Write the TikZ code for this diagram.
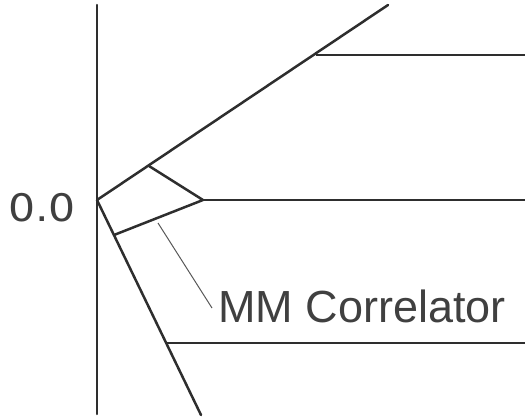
\documentclass[tikz,border=0pt]{standalone}
\usepackage{fontspec}
\setmainfont{Liberation Sans}
\newfontfamily\digitfont{DejaVu Sans}
\definecolor{ink}{HTML}{2E2E2E}
\definecolor{txt}{HTML}{404040}
\begin{document}
\begin{tikzpicture}[x=1pt,y=-1pt,
  mainline/.style={draw=ink, line width=2.5pt, line cap=round, line join=round},
  levelline/.style={draw=ink, line width=2.1pt},
  leader/.style={draw=ink!80, line width=1pt},
  lbl/.style={inner sep=0pt, text=txt, font=\fontsize{45}{50}\selectfont}]
\useasboundingbox (0,0) rectangle (530,420);
% points
\coordinate (axT) at (97,5);
\coordinate (axB) at (97,414);
\coordinate (O) at (97,200);
\coordinate (A) at (149,166);
\coordinate (Utop) at (388,5);
\coordinate (T1) at (316,55);
\coordinate (T1e) at (525,55);
\coordinate (B) at (203,200);
\coordinate (Be) at (525,200);
\coordinate (C) at (114,235);
\coordinate (L1) at (166,343);
\coordinate (L1e) at (525,343);
\coordinate (Lend) at (201,415);
\coordinate (ldA) at (158,223);
\coordinate (ldB) at (212,308);
% axis
\draw[mainline] (axT) -- (axB);
% upper and lower branches
\draw[mainline] (O) -- (Utop);
\draw[mainline] (O) -- (Lend);
% correlator
\draw[mainline] (A) -- (B) -- (C);
% levels
\draw[levelline] (T1) -- (T1e);
\draw[levelline] (B) -- (Be);
\draw[levelline] (L1) -- (L1e);
% labels
\node[lbl, anchor=base west, xscale=1.12, font=\digitfont\fontsize{38}{44}\selectfont] (zero) at (8,221) {0.0};
\node[lbl, anchor=base west] (mm) at (218,322) {MM Correlator};
\draw[leader] (ldA) -- (ldB);
\end{tikzpicture}
\end{document}
